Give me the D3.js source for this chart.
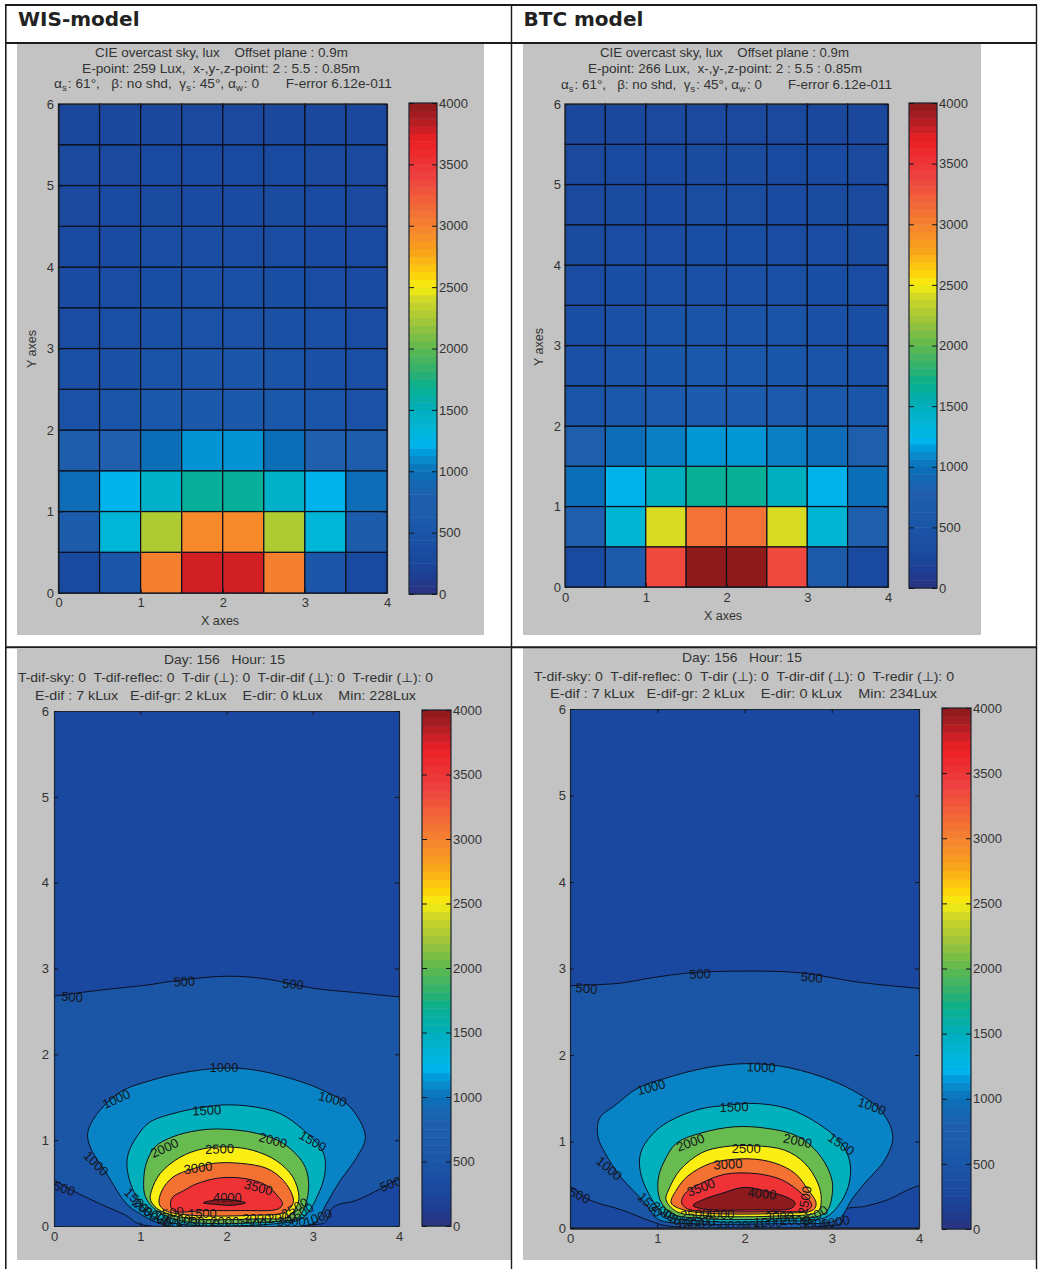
<!DOCTYPE html>
<html><head><meta charset="utf-8">
<script src="https://cdn.jsdelivr.net/npm/d3@7/dist/d3.min.js"></script>
<style>
html,body{margin:0;padding:0;background:#fff;}
svg{display:block;}
text{font-family:"Liberation Sans",Arial,sans-serif;fill:#333;white-space:pre;}
</style></head><body><div id="c"></div>
<script>
// ---------- colour map ----------
const cmapValues = [0,150,300,500,800,1000,1100,1150,1200,1350,1500,1700,1800,2000,2200,2400,2500,2600,2800,3000,3200,3400,3600,3700,3800,3900,4000];
const cmapColors = ["#2a3380","#1d3f94","#1a4a9f","#1b56a8","#1f5fae","#0a70b8","#0a8ccb","#0099d8","#00b3ee","#00b5d6","#00aebb","#0ab08e","#2bb073","#5eb84f","#9cc43b","#cfd827","#f7ee10","#fdd30a","#f9a01b","#f58230","#f1623a","#ee4140","#ed2a2e","#ec2024","#c42026","#a51c21","#8b1a1a"];
const barSteps = d3.range(0,4000,62.5);
const barTicks = [0,500,1000,1500,2000,2500,3000,3500,4000];
const xTicks = [0,1,2,3,4];
const yTicks = [0,1,2,3,4,5,6];

// ---------- grid plots: lux per 0.5 m x 0.5 m cell, rows from y = 0 upward ----------
const gridX = [0,0.5,1,1.5,2,2.5,3,3.5];
const gridY = [0,0.5,1,1.5,2,2.5,3,3.5,4,4.5,5,5.5];
const wisCells = [
 [300,500,3020,3770,3770,3020,500,300],
 [650,1350,2270,2950,2950,2270,1350,650],
 [950,1220,1420,1650,1650,1420,1220,950],
 [700,800,980,1130,1130,980,800,700],
 [430,480,560,600,600,560,480,430],
 [380,420,470,500,500,470,420,380],
 [340,380,420,430,430,420,380,340],
 [320,350,370,380,380,370,350,320],
 [300,320,340,350,350,340,320,300],
 [290,300,310,320,320,310,300,290],
 [280,290,295,300,300,295,290,280],
 [260,270,275,280,280,275,270,260]];
const btcCells = [
 [300,620,3350,3990,3990,3350,620,300],
 [800,1360,2420,3100,3100,2420,1360,800],
 [980,1220,1480,1670,1670,1480,1220,980],
 [750,950,1050,1140,1140,1050,950,750],
 [480,560,640,680,680,640,560,480],
 [420,470,530,560,560,530,470,420],
 [370,420,450,470,470,450,420,370],
 [340,370,390,400,400,390,370,340],
 [310,340,350,360,360,350,340,310],
 [290,310,320,330,330,320,310,290],
 [280,295,300,310,310,300,295,280],
 [266,275,280,285,285,280,275,266]];

// ---------- filled contour plots: outline of each level in axis units ----------
const contourLevels = [500,1000,1500,2000,2500,3000,3500,4000];
const contourBandColors = ["#1a479f","#1b55a6","#0783c6","#00b0bd","#67bb4f","#fbee12","#f37232","#ee3236","#8d1a1c"];
const wisContours = [
 [[-.2,2.66],[0,2.68],[.55,2.75],[1.1,2.81],[1.35,2.85],[2,2.91],[2.45,2.88],[3,2.77],[3.5,2.72],[4,2.67],[4.2,2.66],[4.2,.6],[4,.55],[3.78,.43],[3.51,.30],[3.24,.22],[3.14,.04],[3.05,.02],[1.0,.02],[.84,.12],[.53,.26],[.22,.41],[0,.53],[-.2,.6]],
 [[1,.14],[.84,.26],[.61,.61],[.42,.92],[.39,1.08],[.46,1.25],[.61,1.43],[.8,1.58],[1.07,1.68],[1.46,1.78],[1.96,1.84],[2.31,1.82],[2.74,1.72],[3.12,1.58],[3.43,1.39],[3.61,1.04],[3.51,.8],[3.32,.53],[3.16,.26],[3.05,.06],[2.99,.02],[1.3,.01]],
 [[1.11,.14],[.94,.37],[.85,.65],[.86,.84],[.96,1.04],[1.11,1.21],[1.38,1.31],[1.65,1.37],[1.96,1.41],[2.31,1.39],[2.62,1.31],[2.89,1.12],[3.12,.86],[3.14,.61],[3.05,.34],[2.89,.10],[2.6,.03],[1.4,.03]],
 [[1.19,.18],[1.06,.34],[1.04,.53],[1.07,.73],[1.17,.92],[1.38,1.04],[1.65,1.11],[1.92,1.13],[2.35,1.08],[2.66,.96],[2.89,.73],[2.95,.53],[2.93,.30],[2.83,.10],[2.6,.055],[1.5,.055]],
 [[1.23,.18],[1.12,.30],[1.13,.41],[1.23,.61],[1.46,.80],[1.73,.90],[2.04,.92],[2.31,.88],[2.58,.76],[2.77,.57],[2.84,.34],[2.81,.22],[2.70,.10],[2.4,.085],[1.6,.085]],
 [[1.29,.18],[1.22,.26],[1.25,.41],[1.38,.57],[1.62,.67],[1.85,.73],[2.16,.73],[2.47,.67],[2.66,.53],[2.77,.34],[2.77,.26],[2.68,.16],[2.3,.125],[1.6,.125]],
 [[1.38,.18],[1.35,.26],[1.38,.34],[1.5,.41],[1.65,.49],[1.92,.56],[2.23,.55],[2.47,.47],[2.6,.34],[2.65,.26],[2.6,.20],[2.16,.18],[1.77,.18]],
 [[1.73,.27],[1.85,.30],[2.0,.31],[2.22,.27],[2.05,.24],[1.9,.25]]
];
const btcContours = [
 [[-.2,2.78],[0,2.8],[.57,2.83],[.92,2.89],[1.38,2.95],[2,2.97],[2.64,2.95],[3.32,2.84],[4,2.77],[4.2,2.75],[4.2,.55],[4,.49],[3.87,.44],[3.65,.33],[3.38,.25],[3.15,.21],[3.11,.06],[2.9,.02],[1.15,.02],[.95,.07],[.59,.21],[.21,.33],[0,.48],[-.2,.55]],
 [[1.01,.10],[.86,.29],[.59,.58],[.40,.87],[.32,1.06],[.34,1.27],[.52,1.42],[.78,1.62],[1.09,1.73],[1.55,1.85],[2,1.90],[2.42,1.87],[2.88,1.75],[3.26,1.58],[3.57,1.35],[3.70,1.06],[3.61,.79],[3.38,.52],[3.23,.33],[3.11,.13],[3,.07],[2.4,.05],[1.4,.05]],
 [[1.09,.15],[.94,.33],[.81,.63],[.81,.87],[.94,1.08],[1.13,1.23],[1.47,1.37],[1.81,1.42],[2.12,1.44],[2.5,1.38],[2.84,1.21],[3.11,.98],[3.21,.75],[3.19,.48],[3.07,.25],[2.92,.12],[2.4,.08],[1.5,.08]],
 [[1.16,.17],[1.03,.33],[1.01,.56],[1.07,.75],[1.22,.98],[1.51,1.10],[1.89,1.17],[2.27,1.15],[2.61,1.06],[2.84,.87],[2.98,.63],[3.01,.44],[2.92,.17],[2.4,.11],[1.5,.11]],
 [[1.22,.19],[1.10,.33],[1.13,.44],[1.26,.67],[1.51,.87],[1.77,.94],[2.12,.95],[2.46,.90],[2.69,.75],[2.84,.52],[2.88,.33],[2.84,.19],[2.4,.14],[1.6,.14]],
 [[1.30,.21],[1.16,.29],[1.22,.44],[1.35,.60],[1.62,.75],[2.04,.80],[2.35,.75],[2.58,.63],[2.73,.44],[2.82,.29],[2.79,.21],[2.4,.17],[1.6,.17]],
 [[1.35,.22],[1.28,.29],[1.32,.40],[1.51,.52],[1.77,.62],[2.12,.63],[2.42,.56],[2.63,.42],[2.77,.27],[2.73,.21],[2.3,.19],[1.7,.19]],
 [[1.41,.26],[1.53,.33],[1.74,.40],[2,.47],[2.27,.42],[2.5,.35],[2.58,.29],[2.54,.23],[2.12,.21],[1.53,.22]]
];
// [label, x, y, rotation]
const wisLabels = [
 ["1000",1.97,1.85,0],["1000",.72,1.48,-25],["1000",3.23,1.48,15],["1000",.49,.73,45],
 ["1500",1.77,1.35,-3],["1500",3.00,.99,30],["2000",1.28,.91,-25],["2000",2.54,1.00,15],
 ["2500",1.92,.90,-2],["3000",1.67,.68,-8],["3500",2.37,.45,15],["4000",2.01,.34,0],
 ["500",.12,.44,20],["500",3.90,.49,-20],["500",.21,2.67,5],["500",1.51,2.85,-3],["500",2.77,2.82,5],
 ["1500",.96,.30,45],["2000",1.06,.19,40],["1500",1.72,.15,0],["3000",2.35,.09,0],["2000",2.64,.10,-5],
 ["2500",2.79,.21,-30],["1000",3.06,.10,-20],["2500",1.34,.15,-10],["1000",1.58,.05,0],["2000",1.98,.05,0],
 ["3000",1.2,.11,30],["3500",1.42,.08,0],["500",1.32,.03,0],["1500",2.3,.03,0],["3500",2.75,.05,0],["3000",1.75,.03,0],["1500",2.85,.15,-30]
];
const btcLabels = [
 ["1000",2.19,1.86,2],["1000",.93,1.63,-15],["1000",3.46,1.41,20],["1000",.45,.69,40],
 ["1500",1.88,1.40,-2],["1500",3.11,.97,35],["2000",1.38,.99,-20],["2000",2.61,1.01,12],
 ["2500",2.02,.92,0],["3000",1.81,.74,-3],["3500",1.50,.47,-20],["4000",2.20,.40,5],
 ["500",.11,.38,25],["500",.19,2.77,5],["500",1.49,2.94,-3],["500",2.77,2.90,5],
 ["1500",.92,.27,45],["2000",1.09,.18,35],["4000",1.72,.16,0],["2500",1.43,.16,-5],["1000",3.04,.07,-10],
 ["1500",2.27,.07,0],["2000",2.58,.09,0],["2500",2.69,.32,-80],["1000",1.38,.05,0],
 ["3000",1.2,.11,30],["3500",1.5,.08,0],["2000",2.05,.03,0],["3000",2.4,.13,0],["2500",2.8,.14,-30],["1500",1.72,.03,0],["3500",2.8,.05,0]
];

// ---------- captions ----------
const headers = ["WIS-model","BTC model"];
const wisTop = ["CIE overcast sky, lux    Offset plane : 0.9m","E-point: 259 Lux,  x-,y-,z-point: 2 : 5.5 : 0.85m",
  [["α","s"],[": 61°,   β: no shd,  "],["γ","s"],[": 45°, "],["α","w"],[": 0       F-error 6.12e-011"]]];
const btcTop = ["CIE overcast sky, lux    Offset plane : 0.9m","E-point: 266 Lux,  x-,y-,z-point: 2 : 5.5 : 0.85m",
  [["α","s"],[": 61°,   β: no shd,  "],["γ","s"],[": 45°, "],["α","w"],[": 0       F-error 6.12e-011"]]];
const wisBottom = ["Day: 156   Hour: 15","T-dif-sky: 0  T-dif-reflec: 0  T-dir (⊥): 0  T-dir-dif (⊥): 0  T-redir (⊥): 0","E-dif : 7 kLux   E-dif-gr: 2 kLux    E-dir: 0 kLux    Min: 228Lux"];
const btcBottom = ["Day: 156   Hour: 15","T-dif-sky: 0  T-dif-reflec: 0  T-dir (⊥): 0  T-dir-dif (⊥): 0  T-redir (⊥): 0","E-dif : 7 kLux   E-dif-gr: 2 kLux    E-dir: 0 kLux    Min: 234Lux"];

// ---------- layout ----------
const W = 1040, H = 1269;
const svg = d3.select("#c").append("svg").attr("width",W).attr("height",H);
const colorOf = d3.scaleLinear().domain(cmapValues).range(cmapColors).interpolate(d3.interpolateRgb);

const panels = [
 {kind:"grid", cells:wisCells, bg:[17,44,467,591], x:[58.5,387], y:[593,104], bar:[409,437,594,103], title:wisTop, tx:[[95,253],[82,278],[54,338]], ty:[52,68,83], labelX:[220,621], labelY:[32,349], xLabY:604, yLabX:54, baseW:1.2},
 {kind:"grid", cells:btcCells, bg:[523,44,458,591], x:[565,888], y:[587,104], bar:[909,937,588,103], title:btcTop, tx:[[600,249],[588,274],[561,331]], ty:[52,68,84], labelX:[723,616], labelY:[539,347], xLabY:599, yLabX:561, baseW:1.2},
 {kind:"contour", outlines:wisContours, labels:wisLabels, bg:[17,649,494,611], x:[54,399], y:[1226,711], bar:[422,451,1226,710], title:wisBottom, tx:[[164,121],[18,415],[35,381]], ty:[659,677,695], xLabY:1238, yLabX:49, baseW:1.2},
 {kind:"contour", outlines:btcContours, labels:btcLabels, bg:[523,648,513,612], x:[570,919], y:[1228,709], bar:[942,971,1229,708], title:btcBottom, tx:[[682,120],[534,420],[550,387]], ty:[657,676,693], xLabY:1240, yLabX:566, baseW:2.4}
];

// gray figure backgrounds
svg.selectAll("rect.bg").data(panels).join("rect").attr("class","bg")
  .attr("x",p=>p.bg[0]).attr("y",p=>p.bg[1]).attr("width",p=>p.bg[2]).attr("height",p=>p.bg[3]).attr("fill","#c2c3c2");

// table rules
const rules = [[5.8,5,5.8,1269,1.6],[511.5,5,511.5,1269,1.4],[1036.5,5,1036.5,1269,1.4],[5,5,1037,5,2],[5,43,1037,43,2],[5,647.3,1037,647.3,2]];
svg.selectAll("line.rule").data(rules).join("line").attr("class","rule")
  .attr("x1",d=>d[0]).attr("y1",d=>d[1]).attr("x2",d=>d[2]).attr("y2",d=>d[3])
  .attr("stroke","#1c1c1c").attr("stroke-width",d=>d[4]);

svg.selectAll("text.head").data(headers).join("text").attr("class","head")
  .attr("x",(d,i)=>i?523.5:18).attr("y",26).text(d=>d)
  .style("font-family","'DejaVu Sans',Verdana,sans-serif").style("font-weight","bold").style("font-size","20px").style("fill","#222");

panels.forEach((p,pi)=>{
  const g = svg.append("g");
  const x = d3.scaleLinear().domain([0,4]).range(p.x);
  const y = d3.scaleLinear().domain([0,6]).range(p.y);
  const clipId = "clip"+pi;
  g.append("clipPath").attr("id",clipId).append("rect")
    .attr("x",p.x[0]).attr("y",p.y[1]).attr("width",p.x[1]-p.x[0]).attr("height",p.y[0]-p.y[1]);

  if(p.kind==="grid"){
    p.cells.forEach((row,ri)=>{
      g.selectAll(null).data(row).join("rect")
       .attr("x",(d,ci)=>x(gridX[ci])).attr("y",y(gridY[ri]+.5))
       .attr("width",x(.5)-x(0)).attr("height",y(0)-y(.5))
       .attr("fill",d=>colorOf(d)).attr("stroke","#0b0f1c").attr("stroke-width",1.2);
    });
  } else {
    const plot = g.append("g").attr("clip-path",`url(#${clipId})`);
    plot.append("rect").attr("x",p.x[0]).attr("y",p.y[1]).attr("width",p.x[1]-p.x[0]).attr("height",p.y[0]-p.y[1])
      .attr("fill",contourBandColors[0]);
    const shape = d3.line().x(d=>x(d[0])).y(d=>y(d[1])).curve(d3.curveCatmullRomClosed.alpha(.5));
    p.outlines.forEach((o,i)=>{
      plot.append("path").attr("d",shape(o)).attr("fill",contourBandColors[i+1])
        .attr("stroke","#0b1020").attr("stroke-width",1).attr("stroke-linejoin","round");
    });
    plot.selectAll("text").data(p.labels).join("text")
      .attr("transform",d=>`translate(${x(d[1])},${y(d[2])}) rotate(${d[3]})`)
      .attr("text-anchor","middle").attr("dy","0.36em").style("font-size","13px").style("fill","#14161c").text(d=>d[0]);
  }

  // axes with inward ticks on all four sides
  const fmt = d3.format("d");
  const ax = (gen,tx,ty,w)=>{
    const s = g.append("g").attr("transform",`translate(${tx},${ty})`).call(gen);
    s.selectAll("path").attr("stroke","#1c2430").attr("stroke-width",w||1.2);
    s.selectAll("line").attr("stroke","#10141c");
    s.selectAll("text").style("font-size","13px").style("font-family","'Liberation Sans',Arial,sans-serif").style("fill","#333");
    return s;
  };
  ax(d3.axisBottom(x).tickValues(xTicks).tickFormat(fmt).tickSize(-4).tickSizeOuter(0).tickPadding(Math.max(p.xLabY-p.y[0]-6,1)),0,p.y[0],p.baseW);
  ax(d3.axisTop(x).tickValues(xTicks).tickFormat("").tickSize(-4).tickSizeOuter(0),0,p.y[1]);
  ax(d3.axisLeft(y).tickValues(yTicks).tickFormat(fmt).tickSize(-4).tickSizeOuter(0).tickPadding(p.x[0]-p.yLabX),p.x[0],0);
  ax(d3.axisRight(y).tickValues(yTicks).tickFormat("").tickSize(-4).tickSizeOuter(0),p.x[1],0);

  // colour bar
  const [b0,b1,by0,by1] = p.bar;
  const by = d3.scaleLinear().domain([0,4000]).range([by0,by1]);
  g.selectAll(null).data(barSteps).join("rect")
    .attr("x",b0).attr("width",b1-b0).attr("y",d=>by(d+62.5)).attr("height",d=>by(d)-by(d+62.5)+.4)
    .attr("fill",d=>colorOf(d+31));
  g.append("rect").attr("x",b0).attr("y",by1).attr("width",b1-b0).attr("height",by0-by1)
    .attr("fill","none").attr("stroke","#1c2430").attr("stroke-width",1.2);
  ax(d3.axisRight(by).tickValues(barTicks).tickSize(-5).tickSizeOuter(0).tickPadding(2).tickFormat(fmt),b1,0).select("path").remove();
  ax(d3.axisLeft(by).tickValues(barTicks).tickSize(-5).tickSizeOuter(0).tickFormat(""),b0,0).select("path").remove();

  // caption lines
  p.title.forEach((line,i)=>{
    const t = svg.append("text").attr("x",p.tx[i][0]).attr("y",p.ty[i]+4.5)
      .attr("textLength",p.tx[i][1]).attr("lengthAdjust","spacingAndGlyphs").style("font-size","13px");
    if(typeof line==="string"){ t.text(line); }
    else line.forEach(part=>{
      t.append("tspan").text(part[0]);
      if(part[1]){
        t.append("tspan").attr("dy",3).style("font-size","9px").text(part[1]);
        t.append("tspan").attr("dy",-3).text("\u200a");
      }
    });
  });
  if(p.labelX){
    svg.append("text").attr("x",p.labelX[0]).attr("y",p.labelX[1]+4).attr("text-anchor","middle").style("font-size","12.5px").text("X axes");
    svg.append("text").attr("transform",`translate(${p.labelY[0]+4},${p.labelY[1]}) rotate(-90)`).attr("text-anchor","middle").style("font-size","12.5px").text("Y axes");
  }
});
</script></body></html>
